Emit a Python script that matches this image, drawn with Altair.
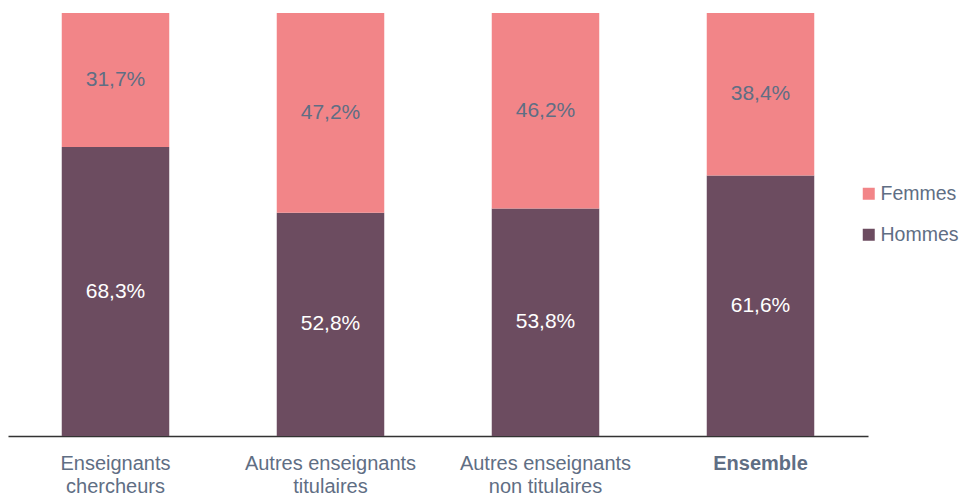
import altair as alt
import pandas as pd

categories = ["Enseignants|chercheurs", "Autres enseignants|titulaires",
              "Autres enseignants|non titulaires", "Ensemble"]
hommes = [68.3, 52.8, 53.8, 61.6]
femmes = [31.7, 47.2, 46.2, 38.4]
series = ["Hommes", "Femmes"]

rows = []
for c, h, f in zip(categories, hommes, femmes):
    rows.append({"cat": c, "genre": "Hommes", "val": h, "ord": 0, "mid": h / 2})
    rows.append({"cat": c, "genre": "Femmes", "val": f, "ord": 1, "mid": h + f / 2})
df = pd.DataFrame(rows)
df["lab"] = df["val"].map(lambda v: f"{v:.1f}".replace(".", ",") + "%")

FONT = "Liberation Sans"
GREY = "#5F6E84"

x = alt.X("cat:N", sort=categories, title=None,
          scale=alt.Scale(paddingInner=0.5, paddingOuter=0.25),
          axis=alt.Axis(labelAngle=0, ticks=False, labelPadding=17,
                        labelExpr="split(datum.label, '|')",
                        labelFont=FONT, labelFontSize=20, labelColor=GREY,
                        labelLineHeight=23,
                        labelFontWeight=alt.condition("datum.value == 'Ensemble'",
                                                      alt.value("bold"), alt.value("normal")),
                        domainColor="#333333", domainWidth=1.5, grid=False))

bars = alt.Chart(df).mark_bar().encode(
    x=x,
    y=alt.Y("val:Q", stack="zero", scale=alt.Scale(domain=[0, 100], nice=False), axis=None),
    color=alt.Color("genre:N", scale=alt.Scale(domain=["Femmes", "Hommes"],
                                               range=["#F28588", "#6C4C60"]),
                    legend=alt.Legend(title=None, orient="none", legendX=851, legendY=171,
                                      symbolType="square", symbolSize=144, symbolStrokeWidth=0,
                                      labelFont=FONT, labelFontSize=19.5, labelColor=GREY,
                                      labelOffset=2, rowPadding=20, padding=0)),
    order=alt.Order("ord:Q"),
)

text = alt.Chart(df).mark_text(font=FONT, fontSize=21, baseline="middle").encode(
    x=alt.X("cat:N", sort=categories),
    y=alt.Y("mid:Q"),
    text="lab:N",
    color=alt.condition("datum.genre == 'Hommes'", alt.value("white"), alt.value(GREY)),
)

chart = alt.layer(bars, text).properties(
    width=860, height=423,
    padding={"left": 0, "top": 5, "right": 0, "bottom": 0},
).configure_view(stroke=None)

chart.save("out.html", embed_options={"renderer": "svg", "actions": False})
